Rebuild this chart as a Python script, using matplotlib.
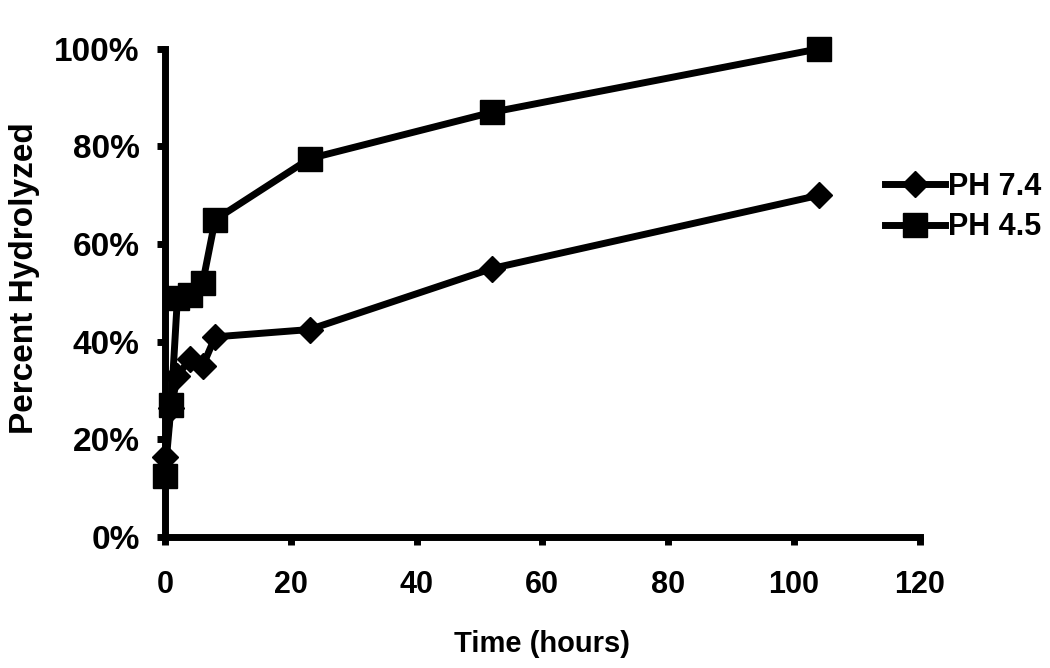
import matplotlib
matplotlib.use("Agg")
import matplotlib.pyplot as plt

# hours
time_hours = [0, 1, 2, 4, 6, 8, 23, 52, 104]
# percent hydrolyzed
ph74 = [16.5, 26.5, 33, 36.5, 35, 41, 42.5, 55, 70]
ph45 = [12.5, 27, 49, 49.5, 52, 65, 77.5, 87, 100]

x_ticks = [0, 20, 40, 60, 80, 100, 120]
y_ticks = [0, 20, 40, 60, 80, 100]

plt.rcParams['font.family'] = ['Liberation Sans', 'DejaVu Sans']
plt.rcParams['font.weight'] = 'bold'

fig = plt.figure(figsize=(10.5, 6.68), dpi=100)
ax = fig.add_axes([0.157, 0.196, 0.719, 0.731])

ax.plot(time_hours, ph74, color='black', lw=5, marker='D', markersize=13,
        label='PH 7.4', clip_on=False, zorder=3)
ax.plot(time_hours, ph45, color='black', lw=5, marker='s', markersize=17.5,
        label='PH 4.5', clip_on=False, zorder=3)

ax.set_xlim(0, 120)
ax.set_ylim(0, 100)
ax.set_xticks(x_ticks)
ax.set_yticks(y_ticks)
ax.set_yticklabels([f"{v}%" for v in y_ticks])

for side in ['top', 'right']:
    ax.spines[side].set_visible(False)
for side in ['left', 'bottom']:
    ax.spines[side].set_linewidth(5)
ax.tick_params(axis='both', direction='out', length=6, width=5)
ax.tick_params(axis='y', labelsize=24, pad=12)
ax.tick_params(axis='x', labelsize=22, pad=18)
for lbl in ax.get_xticklabels() + ax.get_yticklabels():
    lbl.set_fontweight('bold')

ax.set_xlabel("Time (hours)", fontsize=21, fontweight='bold', labelpad=21)
ax.set_ylabel("Percent Hydrolyzed", fontsize=24, fontweight='bold')
ax.yaxis.set_label_coords(-0.165, 0.53)

leg = ax.legend(loc='center left', bbox_to_anchor=(0.954, 0.676), frameon=False,
                fontsize=22, borderaxespad=0, borderpad=0, handletextpad=0.1,
                handlelength=1.95, labelspacing=0.35)
for t in leg.get_texts():
    t.set_fontweight('bold')

fig.savefig("out.png", dpi=100)
